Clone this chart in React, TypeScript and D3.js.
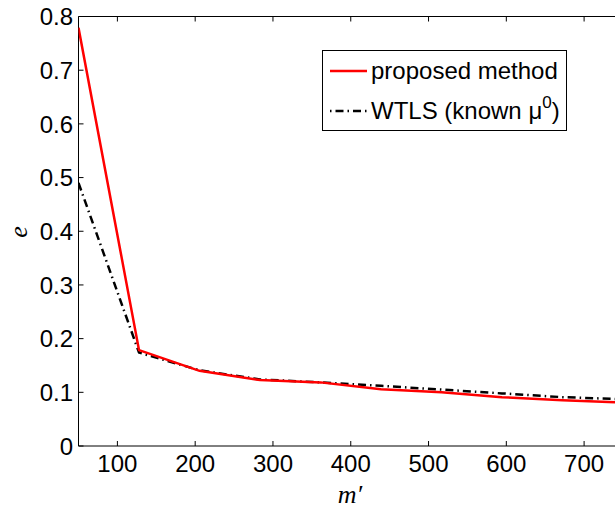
import React from "react";
import * as d3 from "d3";

const mValues = [50, 127.8, 205.6, 283.3, 361.1, 438.9, 516.7, 594.4, 672.2, 750];
const proposed = [0.779, 0.1786, 0.14, 0.1228, 0.1185, 0.1055, 0.1, 0.091, 0.085, 0.081];
const wtls = [0.49, 0.174, 0.141, 0.124, 0.1185, 0.112, 0.105, 0.098, 0.091, 0.087];
const xTicks = [100, 200, 300, 400, 500, 600, 700];
const yTicks = [0, 0.1, 0.2, 0.3, 0.4, 0.5, 0.6, 0.7, 0.8];
const yTickLabels = ["0", "0.1", "0.2", "0.3", "0.4", "0.5", "0.6", "0.7", "0.8"];
const seriesNames = ["proposed method", "WTLS (known "];

const W = 615;
const H = 513;
const left = 78.5;
const right = 623;
const top = 16.5;
const bottom = 446;
const FONT = "'Liberation Sans', Arial, Helvetica, sans-serif";
const DASHDOT = "8,4,1.5,4";

export default function App() {
  const x = d3.scaleLinear().domain([50, 750]).range([left, right]);
  const y = d3.scaleLinear().domain([0, 0.8]).range([bottom, top]);
  const line = d3
    .line<number>()
    .x((_, i) => x(mValues[i]))
    .y((d) => y(d));
  const tickLen = 5;
  return (
    <svg
      width={W}
      height={H}
      style={{ position: "absolute", left: 0, top: 0, background: "#fff" }}
    >
      <defs>
        <clipPath id="plot">
          <rect x={left} y={top} width={right - left} height={bottom - top} />
        </clipPath>
      </defs>
      <rect x={0} y={0} width={W} height={H} fill="#fff" />
      {/* axes box */}
      <line x1={left} x2={right} y1={bottom} y2={bottom} stroke="#000" strokeWidth={1} />
      <line x1={left} x2={right} y1={top} y2={top} stroke="#000" strokeWidth={1} />
      <line x1={left} x2={left} y1={top} y2={bottom} stroke="#000" strokeWidth={1} />
      <line x1={right} x2={right} y1={top} y2={bottom} stroke="#000" strokeWidth={1} />
      {xTicks.map((t) => (
        <g key={"xt" + t}>
          <line x1={x(t)} x2={x(t)} y1={bottom} y2={bottom - tickLen} stroke="#000" />
          <line x1={x(t)} x2={x(t)} y1={top} y2={top + tickLen} stroke="#000" />
          <text
            x={x(t)}
            y={472}
            textAnchor="middle"
            fontFamily={FONT}
            fontSize={24}
            fill="#000"
          >
            {t}
          </text>
        </g>
      ))}
      {yTicks.map((t, i) => (
        <g key={"yt" + t}>
          <line x1={left} x2={left + tickLen} y1={y(t)} y2={y(t)} stroke="#000" />
          <line x1={right} x2={right - tickLen} y1={y(t)} y2={y(t)} stroke="#000" />
          <text
            x={73}
            y={y(t)}
            dy="0.36em"
            textAnchor="end"
            fontFamily={FONT}
            fontSize={24}
            fill="#000"
          >
            {yTickLabels[i]}
          </text>
        </g>
      ))}
      <g clipPath="url(#plot)">
        <path
          d={line(wtls) || ""}
          fill="none"
          stroke="#000"
          strokeWidth={2.5}
          strokeDasharray={DASHDOT}
        />
        <path d={line(proposed) || ""} fill="none" stroke="#ff0000" strokeWidth={2.5} />
      </g>
      {/* axis labels */}
      <text
        x={350}
        y={503}
        textAnchor="middle"
        fontFamily="'Liberation Serif', 'Times New Roman', serif"
        fontStyle="italic"
        fontSize={26}
        fill="#000"
      >
        m′
      </text>
      <text
        transform="translate(27,232) rotate(-90)"
        textAnchor="middle"
        fontFamily="'Liberation Serif', 'Times New Roman', serif"
        fontStyle="italic"
        fontSize={26}
        fill="#000"
      >
        e
      </text>
      {/* legend */}
      <rect x={322.5} y={50.5} width={244} height={80} fill="#fff" stroke="#000" strokeWidth={1} />
      <line x1={330} x2={367} y1={71} y2={71} stroke="#ff0000" strokeWidth={2.5} />
      <line
        x1={330}
        x2={367}
        y1={111}
        y2={111}
        stroke="#000"
        strokeWidth={2.5}
        strokeDasharray="1.5,4,8,4"
      />
      <text x={371} y={79} fontFamily={FONT} fontSize={24} fill="#000">
        {seriesNames[0]}
      </text>
      <text x={371} y={119} fontFamily={FONT} fontSize={24} fill="#000">
        {seriesNames[1]}
        <tspan>μ</tspan>
        <tspan dy={-11} fontSize={17}>0</tspan>
        <tspan dy={11}>)</tspan>
      </text>
    </svg>
  );
}
